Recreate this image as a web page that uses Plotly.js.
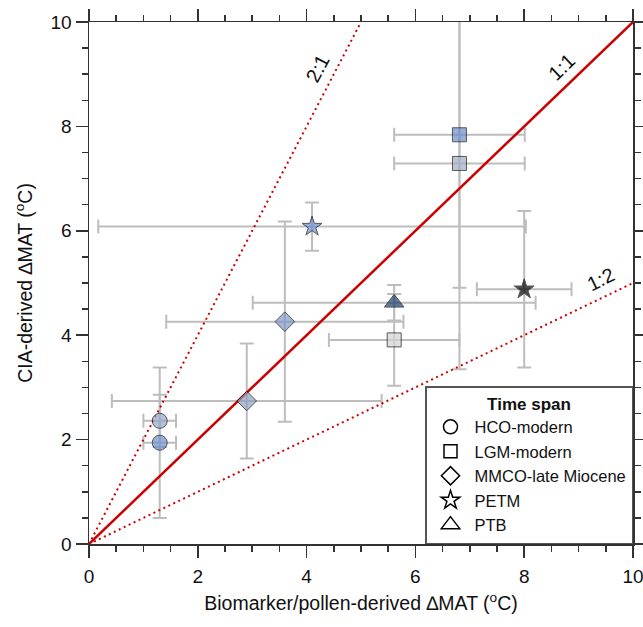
<!DOCTYPE html>
<html>
<head>
<meta charset="utf-8">
<script src="https://cdn.plot.ly/plotly-3.0.1.min.js"></script>
<style>html,body{margin:0;padding:0;background:#fff;}#chart{width:643px;height:627px;}</style>
</head>
<body>
<div id="chart"></div>
<script>
// ---- data ----
const groupNames = ["HCO-modern", "LGM-modern", "MMCO-late Miocene", "PETM", "PTB"];
const groupSymbols = ["circle", "square", "diamond", "star", "triangle-up"];

const hcoX = [1.3, 1.3];
const hcoY = [2.36, 1.94];
const hcoXerr = [0.3, 0.3];
const hcoYerr = [0.5, 1.44];
const hcoColor = ["#95a8cc", "#6f90cc"];

const lgmX = [6.81, 6.81, 5.61];
const lgmY = [7.84, 7.29, 3.91];
const lgmXerr = [1.2, 1.2, 1.2];
const lgmYerr = [2.93, 3.94, 0.88];
const lgmColor = ["#6a8cc8", "#a2afc8", "#d4d4d4"];

const mmcoX = [2.9, 3.6];
const mmcoY = [2.74, 4.26];
const mmcoXerr = [2.48, 2.18];
const mmcoYerr = [1.1, 1.92];
const mmcoColor = ["#90a0c0", "#7f98c8"];

const petmX = [4.1, 8.0];
const petmY = [6.08, 4.88];
const petmXerr = [3.93, 0.87];
const petmYerr = [0.46, 1.5];
const petmColor = ["#6a8ed0", "#000000"];

const ptbX = [5.61];
const ptbY = [4.62];
const ptbXerr = [2.6];
const ptbYerr = [0.34];
const ptbColor = ["#1a4070"];

const line11X = [0, 10], line11Y = [0, 10];
const line21X = [0, 5],  line21Y = [0, 10];
const line12X = [0, 10], line12Y = [0, 5];

const tickVals = [0, 2, 4, 6, 8, 10];

// ---- assemble ----
const groups = [
  {x: hcoX, y: hcoY, ex: hcoXerr, ey: hcoYerr, c: hcoColor},
  {x: lgmX, y: lgmY, ex: lgmXerr, ey: lgmYerr, c: lgmColor},
  {x: mmcoX, y: mmcoY, ex: mmcoXerr, ey: mmcoYerr, c: mmcoColor},
  {x: petmX, y: petmY, ex: petmXerr, ey: petmYerr, c: petmColor},
  {x: ptbX, y: ptbY, ex: ptbXerr, ey: ptbYerr, c: ptbColor}
];
const symSize = {"circle": 15, "square": 14, "diamond": 15, "star": 15, "triangle-up": 17};
let allX = [], allY = [], allEx = [], allEy = [], allC = [], allS = [], allSz = [];
groups.forEach((g, gi) => {
  g.x.forEach((v, i) => {
    allX.push(v); allY.push(g.y[i]); allEx.push(g.ex[i]); allEy.push(g.ey[i]);
    allC.push(g.c[i]); allS.push(groupSymbols[gi]); allSz.push(symSize[groupSymbols[gi]]);
  });
});

const red = "#cc0000";
const fontFam = "Liberation Sans, Arial, sans-serif";
const traces = [];
// error bars (behind everything)
traces.push({
  type: "scatter", mode: "markers", x: allX, y: allY, showlegend: false, hoverinfo: "skip",
  marker: {size: allSz, opacity: 0},
  error_x: {type: "data", array: allEx, visible: true, color: "#bdbdbd", thickness: 2, width: 7},
  error_y: {type: "data", array: allEy, visible: true, color: "#bdbdbd", thickness: 2, width: 7}
});
// reference lines
traces.push({type: "scatter", mode: "lines", x: line21X, y: line21Y, showlegend: false,
  line: {color: red, width: 2, dash: "2px,3.5px"}, hoverinfo: "skip"});
traces.push({type: "scatter", mode: "lines", x: line12X, y: line12Y, showlegend: false,
  line: {color: red, width: 2, dash: "2px,3.5px"}, hoverinfo: "skip"});
traces.push({type: "scatter", mode: "lines", x: line11X, y: line11Y, showlegend: false,
  line: {color: red, width: 2.5}, hoverinfo: "skip"});
// markers
traces.push({
  type: "scatter", mode: "markers", x: allX, y: allY, showlegend: false,
  marker: {size: allSz, color: allC, symbol: allS, line: {color: "#111", width: 1}}
});
// legend entries (open symbols)
const legSize = {"circle": 14, "square": 13, "diamond": 14, "star": 14, "triangle-up": 16};
groupNames.forEach((n, i) => {
  traces.push({
    type: "scatter", mode: "markers", x: [null], y: [null], name: n,
    marker: {symbol: groupSymbols[i] + "-open", size: legSize[groupSymbols[i]], color: "#000", line: {color: "#000", width: 1.5}}
  });
});

const axisCommon = {
  range: [0, 10], tickvals: tickVals, ticks: "outside", ticklen: 12, tickwidth: 1.5,
  tickcolor: "#333", showline: true, linecolor: "#333", linewidth: 1.5, mirror: "ticks",
  showgrid: false, zeroline: false, tickfont: {size: 19, color: "#111", family: fontFam},
  ticklabeloverflow: "allow",
  minor: {dtick: 0.5, ticklen: 6, tickwidth: 1.5, tickcolor: "#333", ticks: "outside", showgrid: false}
};

const layout = {
  width: 643, height: 627,
  margin: {l: 89, r: 10, t: 22, b: 83},
  paper_bgcolor: "#fff", plot_bgcolor: "#fff",
  font: {family: fontFam, color: "#111"},
  xaxis: Object.assign({}, axisCommon, {
    ticklabelstandoff: 3,
    title: {text: "Biomarker/pollen-derived \u2206MAT (<sup>o</sup>C)", font: {size: 19.5}, standoff: 10}
  }),
  yaxis: Object.assign({}, axisCommon, {
    title: {text: "CIA-derived \u2206MAT (<sup>o</sup>C)", font: {size: 19.5}, standoff: 12}
  }),
  showlegend: true,
  legend: {
    x: 1, xanchor: "right", y: 0, yanchor: "bottom",
    bgcolor: "#fff", bordercolor: "#555", borderwidth: 1.5,
    font: {size: 16.5, color: "#111"},
    title: {text: "<b>Time span</b>", side: "top center", font: {size: 17}},
    itemwidth: 38, tracegroupgap: 0
  },
  annotations: [
    {x: 8.69, y: 9.13, xref: "x", yref: "y", text: "1:1", showarrow: false, textangle: -44,
      font: {size: 20, color: "#111"}},
    {x: 4.21, y: 9.11, xref: "x", yref: "y", text: "2:1", showarrow: false, textangle: -62,
      font: {size: 20, color: "#111"}},
    {x: 9.42, y: 5.07, xref: "x", yref: "y", text: "1:2", showarrow: false, textangle: -26,
      font: {size: 20, color: "#111"}}
  ]
};

Plotly.newPlot("chart", traces, layout, {displayModeBar: false, staticPlot: true});
</script>
</body>
</html>
